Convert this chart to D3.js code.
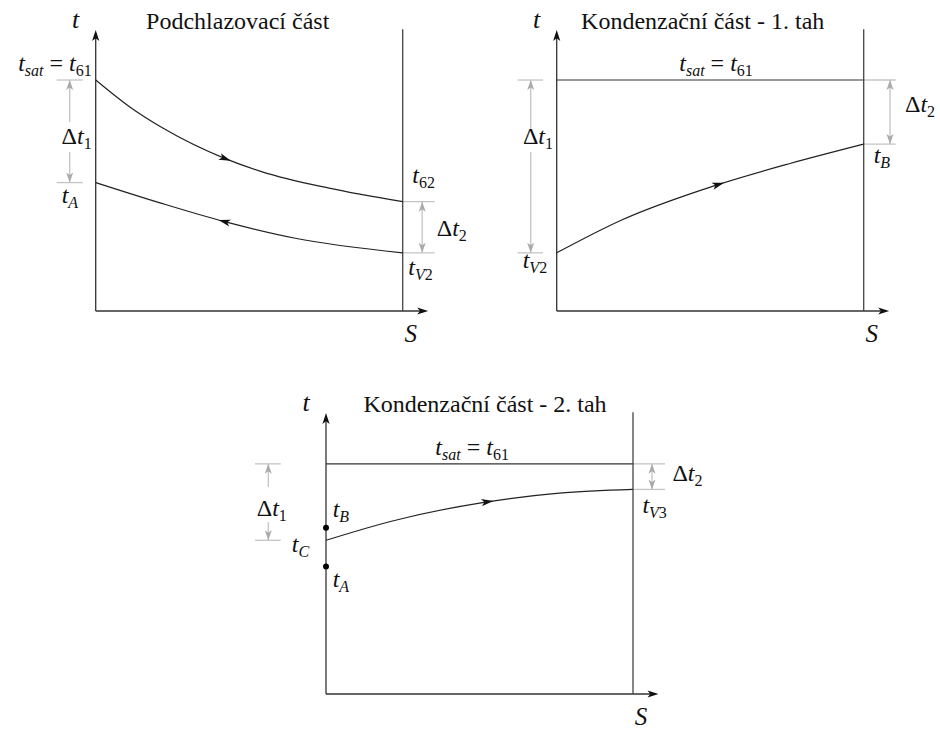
<!DOCTYPE html>
<html>
<head>
<meta charset="utf-8">
<script src="https://cdnjs.cloudflare.com/ajax/libs/d3/7.8.5/d3.min.js"></script>
<style>
  body { margin: 0; background: #fff; }
  svg text { white-space: pre; fill: #111; }
</style>
</head>
<body>
<svg id="fig" width="940" height="729"></svg>
<script>
// ---- data (t in % of axis height, S in fraction of exchanger length) ----
var titles = ['Podchlazovací část', 'Kondenzační část - 1. tah', 'Kondenzační část - 2. tah']
var tSat = [82.2, 82.2, 81.9]

// panel 1: hot stream (cooling) and cold stream (counter flow)
var s1Hot = [0, 0.11, 0.22, 0.42, 0.54, 0.76, 1]
var t1Hot = [82.2, 72.7, 65.0, 54.3, 49.6, 43.7, 38.9]
var s1Cold = [0, 0.215, 0.42, 0.65, 1]
var t1Cold = [45.7, 38.3, 31.8, 25.9, 20.7]

// panel 2: cold stream, 1st pass
var s2 = [0, 0.21, 0.52, 0.76, 1]
var t2 = [20.7, 32.3, 44.8, 52.5, 59.4]

// panel 3: cold stream, 2nd pass + points t_B, t_A on the axis
var s3 = [0, 0.21, 0.52, 0.76, 1]
var t3 = [54.7, 61.4, 68.3, 71.5, 72.8]
var dots3 = [59.2, 45.4]

// ---- layout ----
var W = 307, H = 281
var x = d3.scaleLinear().domain([0, 1]).range([0, W])
var y = d3.scaleLinear().domain([0, 100]).range([H, 0])
var origins = [[95.7, 30], [556.7, 30], [326, 413]]
var serif = "'Liberation Serif', 'DejaVu Serif', serif"

var svg = d3.select('#fig')
svg.append('rect').attr('width', 940).attr('height', 729).attr('fill', '#fff')

var line = d3.line().x(function(d){ return x(d[0]) }).y(function(d){ return y(d[1]) }).curve(d3.curveMonotoneX)

function zip(a, b){ return a.map(function(v, i){ return [v, b[i]] }) }
function last(a){ return a[a.length - 1] }

// simple TeX-ish label: letters italic, digits/symbols upright, _{..} subscript
function mathText(g, str, px, py, anchor){
  var t = g.append('text').attr('x', px).attr('y', py).attr('font-family', serif)
    .attr('text-anchor', anchor || 'start').style('font-size', '24px')
  var shift = 0
  str.split(/(_\{[^}]*\})/).filter(Boolean).forEach(function(p){
    var sub = p[0] == '_'
    var body = sub ? p.slice(2, -1) : p
    body.match(/[A-Za-z]+|[^A-Za-z]+/g).forEach(function(run){
      var ts = t.append('tspan').text(run)
        .style('font-style', /[A-Za-z]/.test(run) ? 'italic' : 'normal')
      if (sub) ts.style('font-size', '16px')
      var target = sub ? 5 : 0
      if (target != shift) { ts.attr('dy', target - shift); shift = target }
    })
  })
  return t
}

function head(g, tx, ty, angle, len, hw, fill){
  g.append('path')
    .attr('d', 'M0,0L' + (-len) + ',' + (-hw) + 'L' + (-len * 0.75) + ',0L' + (-len) + ',' + hw + 'Z')
    .attr('transform', 'translate(' + tx + ',' + ty + ') rotate(' + angle + ')')
    .attr('fill', fill)
}

function curveWithArrow(g, s, t, at, back){
  var p = g.append('path').datum(zip(s, t)).attr('d', line)
    .attr('fill', 'none').attr('stroke', '#222').attr('stroke-width', 1.2)
  var node = p.node(), L = node.getTotalLength(), lo = 0, hi = L, target = x(at)
  for (var i = 0; i < 40; i++) {
    var mid = (lo + hi) / 2
    if (node.getPointAtLength(mid).x < target) lo = mid; else hi = mid
  }
  var a = node.getPointAtLength(Math.max(lo - 2, 0)), b = node.getPointAtLength(Math.min(lo + 2, L))
  var ang = Math.atan2(b.y - a.y, b.x - a.x) * 180 / Math.PI + (back ? 180 : 0)
  var c = node.getPointAtLength(lo)
  head(g, c.x, c.y, ang, 12, 3.6, '#111')
}

// grey dimension arrow between two temperatures
function dim(g, tTop, tBot, x0, x1, ax, gap){
  var grey = '#c4c4c4'
  ;[tTop, tBot].forEach(function(v){
    g.append('line').attr('x1', x0).attr('x2', x1).attr('y1', y(v)).attr('y2', y(v))
      .attr('stroke', grey).attr('stroke-width', 1.3)
  })
  var segs = gap ? [[y(tTop), gap[0]], [gap[1], y(tBot)]] : [[y(tTop), y(tBot)]]
  segs.forEach(function(sg){
    g.append('line').attr('x1', ax).attr('x2', ax).attr('y1', sg[0]).attr('y2', sg[1])
      .attr('stroke', grey).attr('stroke-width', 1.3)
  })
  head(g, ax, y(tTop), -90, 10, 3.5, '#aaa')
  head(g, ax, y(tBot), 90, 10, 3.5, '#aaa')
}

var panels = [
  {
    titleX: 142,
    curves: [[s1Hot, t1Hot, 0.44, false], [s1Cold, t1Cold, 0.40, true]],
    sat: false,
    left: [t1Hot[0], t1Cold[0], -39, -13, -26, [92, 122]],
    right: [last(t1Hot), last(t1Cold), W, W + 32, W + 19.5, null],
    labels: [
      ['t_{sat} = t_{61}', -4, y(tSat[0]) - 9.3, 'end'],
      ['Δt_{1}', -4, 114, 'end'],
      ['t_{A}', -34, y(t1Cold[0]) + 20.5, 'start'],
      ['t_{62}', W + 9.6, y(last(t1Hot)) - 19, 'start'],
      ['Δt_{2}', W + 34, 206, 'start'],
      ['t_{V2}', W + 5.6, y(last(t1Cold)) + 22, 'start']
    ]
  },
  {
    titleX: 146,
    curves: [[s2, t2, 0.545, false]],
    sat: true,
    left: [tSat[1], t2[0], -39, -13.7, -26, [100, 122]],
    right: [tSat[1], last(t2), W, W + 32, W + 26.3, null],
    labels: [
      ['t_{sat} = t_{61}', x(0.519), y(tSat[1]) - 9.3, 'middle'],
      ['Δt_{1}', -3.7, 114, 'end'],
      ['t_{V2}', -34, y(t2[0]) + 15.5, 'start'],
      ['Δt_{2}', W + 41.3, 82, 'start'],
      ['t_{B}', W + 10, y(last(t2)) + 18.7, 'start']
    ]
  },
  {
    titleX: 159,
    curves: [[s3, t3, 0.545, false]],
    sat: true,
    left: [tSat[2], t3[0], -71, -45.3, -57.7, [74, 109]],
    right: [tSat[2], last(t3), W, W + 32, W + 19, null],
    dots: dots3,
    labels: [
      ['t_{sat} = t_{61}', x(0.476), y(tSat[2]) - 9, 'middle'],
      ['Δt_{1}', -69.3, 103, 'start'],
      ['t_{B}', 6.7, y(dots3[0]) - 11, 'start'],
      ['t_{C}', -34.3, y(t3[0]) + 11.4, 'start'],
      ['t_{A}', 6.7, y(dots3[1]) + 20.3, 'start'],
      ['Δt_{2}', W + 39.4, 68, 'start'],
      ['t_{V3}', W + 9.4, y(last(t3)) + 24, 'start']
    ]
  }
]

panels.forEach(function(pn, i){
  var g = svg.append('g').attr('transform', 'translate(' + origins[i][0] + ',' + origins[i][1] + ')')

  dim.apply(null, [g].concat(pn.left))
  dim.apply(null, [g].concat(pn.right))

  // axes and exchanger end
  var ax = '#333'
  g.append('line').attr('x1', 0).attr('x2', 0).attr('y1', y(0)).attr('y2', y(100) + 4)
    .attr('stroke', ax).attr('stroke-width', 1.3)
  head(g, 0, y(100), -90, 11, 3.6, '#111')
  g.append('line').attr('x1', 0).attr('x2', x(1.083) - 4).attr('y1', y(0)).attr('y2', y(0))
    .attr('stroke', ax).attr('stroke-width', 1.3)
  head(g, x(1.083), y(0), 0, 11, 3.6, '#111')
  g.append('line').attr('x1', x(1)).attr('x2', x(1)).attr('y1', y(0)).attr('y2', y(100.3))
    .attr('stroke', '#444').attr('stroke-width', 1.3)

  if (pn.sat) {
    g.append('line').attr('x1', x(0)).attr('x2', x(1)).attr('y1', y(tSat[i])).attr('y2', y(tSat[i]))
      .attr('stroke', '#333').attr('stroke-width', 1.2)
  }

  pn.curves.forEach(function(c){ curveWithArrow(g, c[0], c[1], c[2], c[3]) })

  ;(pn.dots || []).forEach(function(v){
    g.append('circle').attr('cx', 0).attr('cy', y(v)).attr('r', 3).attr('fill', '#000')
  })

  g.append('text').attr('x', pn.titleX).attr('y', -1).attr('text-anchor', 'middle')
    .attr('font-family', serif).style('font-size', '24px').text(titles[i])
  mathText(g, 't', -20, -2, 'middle').style('font-size', '26px')
  mathText(g, 'S', x(1) + 8, H + 31, 'middle').style('font-size', '25px')

  pn.labels.forEach(function(l){ mathText(g, l[0], l[1], l[2], l[3]) })
})
</script>
</body>
</html>
